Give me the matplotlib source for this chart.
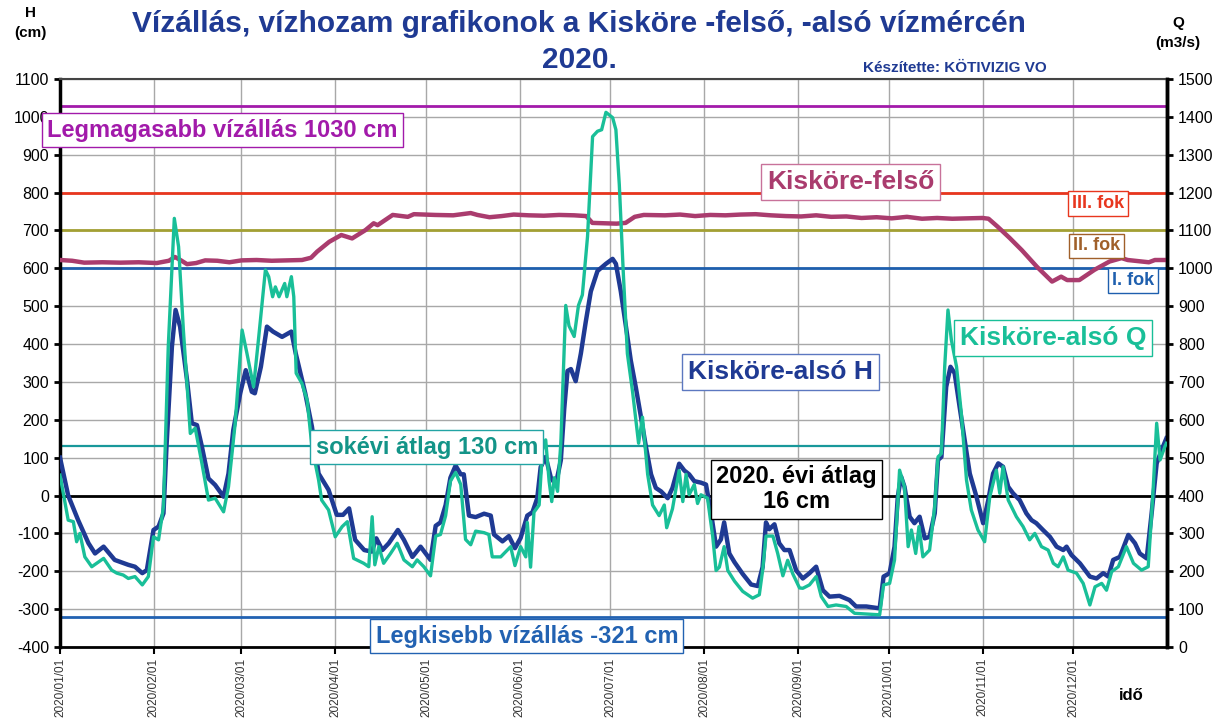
import numpy as np
import matplotlib
matplotlib.use('Agg')
import matplotlib.pyplot as plt
import matplotlib.dates as mdates

plt.rcParams['font.family'] = ['Liberation Sans', 'DejaVu Sans']
plt.rcParams['axes.unicode_minus'] = False

# Kisköre-alsó H (cm), day of year -> value
h_day = [0, 2.7, 6, 9.4, 11.6, 14.4, 18.1, 22.6, 24.8, 27.2, 28.7, 30.9, 32.6, 34.2, 35.2, 37, 38.2, 39.7,
         42, 43.6, 45.3, 46.9, 49.1, 51.3, 54.1, 55.7, 57.3, 59.6, 61.4, 63.4, 64.4, 66.4, 68.4, 70.4, 73.4,
         76.5, 77.9, 79.5, 81.1, 83.3, 85.5, 88.8, 91.5, 93.6, 95.6, 97.6, 100.6, 103.1, 104.6, 106.6, 108.7,
         111.7, 113.7, 116.5, 119.2, 122.5,
         124.2, 125.8, 127.5, 129.1, 130.8, 132.5, 133.5, 135.2, 137.4, 140.2, 142.4, 143.5, 146.3, 148.4,
         150.4, 152.3, 154.5, 156.2, 157.8, 158.9, 160.6, 162.3, 163.9, 165.6, 166.7, 167.8, 168.9, 170.5,
         172.2, 173.8, 175.5, 177.7, 180.5, 182.7, 183.8, 185.4, 187.1, 188.7, 190.4, 192, 193.7, 195.4, 197,
         198.7, 200.9, 202.5, 204.7, 206.4, 208, 209.7, 211.9, 213.6, 215.2, 216.9, 218.5, 219.6, 221.3, 223,
         225.7, 228.5, 230.7, 232.3, 233.4, 234.5, 236.2, 237.8, 239.5, 241.2, 243.4,
         245.6, 247.8, 250, 252.2, 254.4, 257.7, 261, 263.2, 266.6, 271, 272.3, 274.3, 275.9, 277, 278.1,
         279.2, 280.9, 282.5, 284.2, 285.9, 287.5, 289.2, 290.3, 291.4, 293, 294.4, 295.8, 297.4, 299.1,
         300.8, 303, 305.2, 306.9, 308.5, 310.2, 311.8, 313.5, 315.1, 317.3, 319.5, 321.2, 322.8, 325, 327.3,
         329.5, 331.7, 332.8, 334.4, 337.2, 340.5, 342.7, 344.9, 346.6, 348.2, 350.4, 353.2, 355.4, 357,
         359.3, 360.9, 362.6, 364.2, 365.8]
h_val = [100, 0, -65, -126, -153, -135, -170, -183, -188, -205, -197, -91, -82, -47, 129, 393, 490, 446,
         305, 191, 186, 129, 45, 28, -3, 58, 173, 270, 331, 274, 270, 340, 446, 433, 419,
         433, 376, 323, 270, 182, 58, 15, -51, -51, -34, -117, -144, -148, -113, -144, -126,
         -91, -117, -162, -135, -170,
         -80, -71, -25, 47, 79, 56, 56, -53, -57, -48, -53, -103, -121, -107,
         -139, -112, -53, -44, -7, 75, 102, 47, 29, 93, 229, 329, 334, 302,
         375, 457, 539, 593, 612, 625, 612, 539, 448, 357, 284, 211, 129, 56, 20,
         11, -7, 20, 84, 66, 56, 38, 34, 29, -44, -135, -116, -71, -153, -176,
         -207, -235, -239, -189, -71, -89, -76, -126, -144, -144, -198,
         -219, -205, -188, -250, -267, -265, -276, -293, -293, -298, -214, -205, -135, -3, 50,
         23, -56, -73, -56, -113, -109, -47, 94, 102, 287, 340, 323, 235, 147,
         58, -3, -73, -12, 58, 85, 76, 23, 6, -12, -47, -65, -73, -91, -109,
         -135, -144, -135, -157, -179, -214, -219, -205, -214, -170, -162, -104, -126, -153,
         -166, -47, 85, 120, 151]

# Kisköre-alsó Q (m3/s)
q_day = [0, 2.7, 4.4, 5.5, 6.6, 8.2, 10.5, 12.1, 14.4, 17.1, 18.8, 20.9, 22.6, 24.8, 27.2, 29.2, 30.9, 32.6,
         34.2, 35.8, 37.8, 39.2, 40.8, 43.1, 44.7, 46.9, 49.1, 51.3, 54.1, 55.7, 57.9, 60.2, 61.8, 64, 65.7,
         67.9, 69, 70.3, 71.2, 72.4, 74.3, 75, 76.5, 77.3, 78.1, 80, 81.7, 83.3, 85.5, 86.5, 88.8, 91, 93.3,
         95, 97.1, 100.4, 102.1, 103.2, 104.1, 105.4, 107, 109.3, 111.5, 113.7, 116.5, 118.1, 120.3, 122.5,
         124.2, 125.8, 127.5, 129.1, 130.8, 132.5, 134.1, 135.8, 137.4, 140.2, 141.8, 142.9, 145.7, 147.4,
         149, 150.4, 152.3, 154, 154.5, 155.6, 156.7, 158.4, 159.5, 160.6, 161.7, 162.6, 163.4, 164.5, 165.6,
         167.2, 168.3, 170, 171.4, 172.7, 174.4, 176.1, 177.7, 179.1, 180.5, 182.7, 183.8, 184.9, 186.2,
         187.6, 189.3, 191.3, 192.6, 194.3, 195.9, 198.1, 199.8, 200.6, 202.5, 204.7, 205.9, 207, 208, 209.7,
         210.8, 211.9, 214.1, 215.8, 216.9, 218, 219.6, 220.8, 223, 225.7, 229, 231.2, 232.3, 233.4, 235.7,
         237.3, 239, 240.6, 242.3, 244.5,
         245.6, 247.8, 250, 251.7, 253.9, 256.6, 259.9, 262.7, 266.6, 271, 272.3, 274.3, 275.9, 277.6, 279.2,
         280.4, 281.5, 282.9, 284, 285.3, 287.5, 289.2, 290.3, 291.4, 292.5, 293.6, 294.7, 296.4, 298, 299.7,
         301.3, 303.5, 305.7, 307.4, 309.6, 310.7, 311.8, 313.5, 316.2, 318.4, 320.6, 322.3, 324.5, 326.7,
         328.4, 330, 331.7, 333.3, 336.1, 338.3, 340.5, 342.2, 344.4, 346, 347.7, 349.9, 352.6, 354.9, 357.6,
         359.8, 361.3, 362.6, 363.7, 365.3, 365.8]
q_val = [454, 335, 331, 278, 300, 238, 212, 221, 234, 203, 195, 190, 181, 186, 164, 186, 291, 283,
         371, 793, 1132, 1057, 837, 564, 578, 485, 388, 393, 357, 423, 591, 837, 776, 687, 819,
         996, 978, 925, 951, 925, 960, 925, 978, 925, 723, 696, 652, 529, 441, 388, 362, 291, 318,
         331, 234, 221, 212, 344, 217, 265, 221, 247, 274, 230, 212, 230, 212, 188,
         293, 297, 347, 438, 461, 429, 284, 270, 306, 302, 297, 238, 238, 252,
         265, 215, 265, 238, 329, 211, 356, 375, 520, 547, 438, 384, 447, 411, 538,
         902, 848, 820, 902, 930, 1084, 1348, 1362, 1366, 1412, 1398, 1366, 1221, 993,
         775, 675, 538, 607, 456, 375, 347, 375, 315, 365, 466, 384, 456, 402, 429,
         379, 402, 393, 293, 202, 211, 265, 202, 174, 147, 129, 138, 202, 293, 293,
         247, 188, 229, 193, 156,
         155, 164, 186, 133, 107, 111, 107, 89, 87, 85, 164, 168, 230, 467, 423,
         265, 309, 247, 318, 238, 256, 371, 502, 511, 740, 890, 811, 740, 617, 441,
         362, 309, 278, 397, 467, 406, 476, 388, 344, 318, 283, 300, 265, 256,
         221, 212, 238, 203, 195, 168, 111, 159, 168, 150, 199, 212, 265, 221, 203,
         212, 397, 591, 494, 529, 538]

# Kisköre-felső H (cm)
f_day = [0, 4, 8, 14, 20, 26, 32, 36, 38, 40, 42, 45, 48, 52, 56, 60, 65, 70, 75, 80, 83, 85, 89, 93, 96.6,
         101, 103.7, 105, 110, 115, 117, 124, 130, 135.8, 138, 142, 146, 150, 155, 160, 165, 170, 174, 176,
         180, 184, 187, 190, 193, 200, 205, 210, 215, 220, 225, 230, 235, 240, 245, 250, 255, 260, 265, 270,
         275, 280, 285, 290, 295, 300, 305, 307, 310, 314, 318, 323, 328, 331, 333, 337, 342, 347, 351, 353,
         360, 362, 365.8]
f_val = [622, 620, 615, 616, 615, 616, 614, 620, 630, 621, 611, 614, 621, 620, 616, 621, 622, 620, 621, 622,
         628, 644, 670, 688, 679, 701, 719, 714, 741, 736, 743, 741, 740, 746, 741, 735, 738, 742, 740, 739,
         741, 740, 738, 720, 719, 718, 720, 736, 741, 740, 742, 738, 741, 740, 742, 743, 740, 738, 737, 740,
         736, 737, 733, 735, 732, 736, 731, 733, 731, 732, 733, 731, 710, 680, 648, 604, 565, 578, 569, 569,
         596, 618, 627, 622, 616, 622, 622]

# reference levels (cm) and their colours
ref_levels = [1030, 800, 700, 600, 130, 0, -321]
ref_colors = ['#A21AAA', '#E8361E', '#A3A033', '#1E5FAE', '#18989A', '#000000', '#2262B2']

base = np.datetime64('2020-01-01T00:00')


def to_dates(days):
    return base + np.round(np.array(days) * 24).astype('timedelta64[h]')


fig = plt.figure(figsize=(12.23, 7.24), dpi=100)
ax = fig.add_axes([60 / 1223, 1 - 647 / 724, 1107 / 1223, 568 / 724])
ax2 = ax.twinx()

for lvl, col in zip(ref_levels, ref_colors):
    ax.axhline(lvl, color=col, lw=2 if lvl != 130 else 1.6, zorder=2)

ax.plot(to_dates(h_day), h_val, color='#1F3A93', lw=3.2, zorder=3, solid_joinstyle='round')
ax.plot(to_dates(f_day), f_val, color='#AA3C6E', lw=3.2, zorder=3, solid_joinstyle='round')
ax2.plot(to_dates(q_day), q_val, color='#19BF98', lw=2.4, zorder=3, solid_joinstyle='round')

ax.set_ylim(-400, 1100)
ax2.set_ylim(0, 1500)
ax.set_yticks(range(-400, 1101, 100))
ax2.set_yticks(range(0, 1501, 100))
ax.set_xlim(np.datetime64('2020-01-01'), np.datetime64('2021-01-01'))
month_starts = np.arange('2020-01', '2021-01', dtype='datetime64[M]').astype('datetime64[D]')
ax.set_xticks(month_starts)
ax.xaxis.set_major_formatter(mdates.DateFormatter('%Y/%m/%d'))

ax.grid(True, color='#A8A8A8', lw=1)
ax.set_axisbelow(True)
ax.tick_params(axis='y', labelsize=11.5, length=4, width=2, pad=4)
ax2.tick_params(axis='y', labelsize=11.5, length=4, width=2, pad=4)
ax.tick_params(axis='x', labelsize=8.5, length=5, width=1.5, pad=3, labelrotation=90, labelcolor='#333333')

for side in ['left', 'right']:
    ax.spines[side].set_linewidth(2.5)
ax.spines['bottom'].set_linewidth(2)
ax.spines['top'].set_linewidth(1.5)
ax.spines['top'].set_color('#444444')
for side in ['left', 'top', 'bottom']:
    ax2.spines[side].set_visible(False)
ax2.spines['right'].set_linewidth(2.5)


def box(day, y, txt, col, size, edge=None):
    x = base + np.timedelta64(int(day * 24), 'h')
    ax2.text(x, y, txt, transform=ax.transData, color=col, fontsize=size, fontweight='bold',
             ha='center', va='center', zorder=10, linespacing=1.15,
             bbox=dict(boxstyle='square,pad=0.22', fc='white', ec=edge or col, lw=1))


box(53.6, 965, 'Legmagasabb vízállás 1030 cm', '#A21AAA', 17)
box(261.5, 828, 'Kisköre-felső', '#AA3C6E', 19, '#C8729A')
box(343.1, 770, 'III. fok', '#E8361E', 13)
box(342.8, 659, 'II. fok', '#A0602A', 13)
box(354.7, 567, 'I. fok', '#1E5FAE', 13)
box(328.3, 416, 'Kisköre-alsó Q', '#19BF98', 19)
box(238.3, 326, 'Kisköre-alsó H', '#1F3A93', 19, '#5C78C0')
box(121.3, 128, 'sokévi átlag 130 cm', '#139488', 17, '#22A4A4')
box(243.6, 17, '2020. évi átlag\n16 cm', '#000000', 17)
box(154.4, -371, 'Legkisebb vízállás -321 cm', '#2262B2', 17)

title_col = '#1F3A93'
fig.text(579 / 1223, 1 - 24 / 724, 'Vízállás, vízhozam grafikonok a Kisköre -felső, -alsó vízmércén',
         ha='center', va='center', fontsize=21.5, fontweight='bold', color=title_col)
fig.text(579 / 1223, 1 - 60 / 724, '2020.', ha='center', va='center', fontsize=21.5,
         fontweight='bold', color=title_col)
fig.text(955 / 1223, 1 - 68 / 724, 'Készítette: KÖTIVIZIG VO', ha='center', va='center',
         fontsize=11, fontweight='bold', color=title_col)
fig.text(30 / 1223, 1 - 23 / 724, 'H\n(cm)', ha='center', va='center', fontsize=11, fontweight='bold',
         linespacing=1.5)
fig.text(1178 / 1223, 1 - 33 / 724, 'Q\n(m3/s)', ha='center', va='center', fontsize=11, fontweight='bold',
         linespacing=1.6)
fig.text(1131 / 1223, 1 - 695 / 724, 'idő', ha='center', va='center', fontsize=12, fontweight='bold')

fig.savefig('out.png', dpi=100)
